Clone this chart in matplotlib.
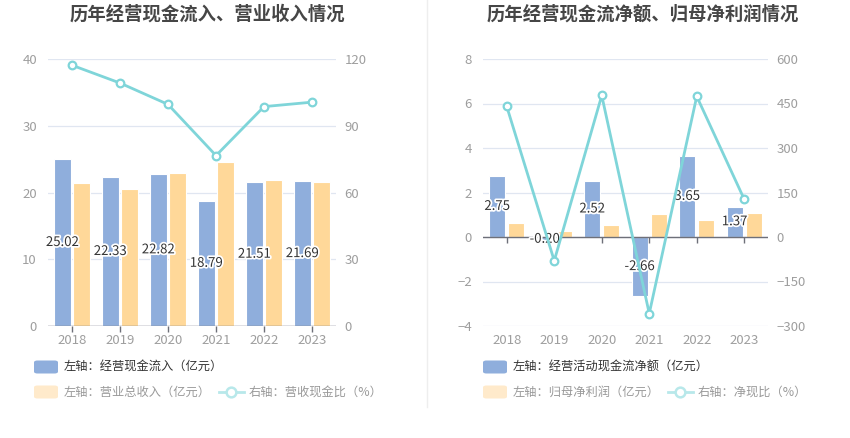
import matplotlib
matplotlib.use("Agg")
import matplotlib.pyplot as plt
from matplotlib.patches import FancyBboxPatch
from matplotlib.lines import Line2D
import matplotlib.patheffects as pe
import numpy as np

plt.rcParams['font.family'] = ['Noto Sans CJK SC', 'DejaVu Sans']

# --------------------------------------------------------------------------- #
# data
# --------------------------------------------------------------------------- #
years = ["2018", "2019", "2020", "2021", "2022", "2023"]

cash_in = [25.02, 22.33, 22.82, 18.79, 21.51, 21.69]        # 经营现金流入 (亿元)
revenue = [21.35, 20.45, 22.90, 24.50, 21.80, 21.55]        # 营业总收入 (亿元)
cash_rev_ratio = [117.2, 109.2, 99.6, 76.6, 98.6, 100.6]    # 营收现金比 (%)

net_cash = [2.75, -0.20, 2.52, -2.66, 3.65, 1.37]           # 经营活动现金流净额 (亿元)
net_profit = [0.62, 0.25, 0.53, 1.02, 0.77, 1.08]           # 归母净利润 (亿元)
net_cash_ratio = [440, -80, 477, -258, 474, 127]            # 净现比 (%)

left_ticks = [0, 10, 20, 30, 40]
left_rticks = [0, 30, 60, 90, 120]
right_ticks = [-4, -2, 0, 2, 4, 6, 8]
right_rticks = [-300, -150, 0, 150, 300, 450, 600]

BLUE = "#8FAEDC"
YELLOW = "#FFD899"
TEAL = "#7FD5D9"
GRID = "#E0E6F1"
TICK = "#9E9E9E"
W, H = 850, 438


def fx(px):
    return px / W


def fy(py):
    return 1 - py / H


def panel(fig, rect, bars_a, bars_b, line, ylim, yticks, rylim, rticks):
    ax = fig.add_axes(rect)
    x = np.arange(len(years))
    ax.bar(x - 0.2, bars_a, width=0.34, color=BLUE, edgecolor="white", linewidth=0.8, zorder=2)
    ax.bar(x + 0.2, bars_b, width=0.34, color=YELLOW, edgecolor="white", linewidth=0.8, zorder=2)
    for xi, v in zip(x, bars_a):
        ax.text(xi - 0.2, v / 2, f"{v:.2f}", ha="center", va="center", fontsize=9.5,
                color="#333333", zorder=5,
                path_effects=[pe.withStroke(linewidth=2.5, foreground="white")])
    ax.set_xlim(-0.5, len(years) - 0.5)
    ax.set_ylim(*ylim)
    ax.set_yticks(yticks)
    ax.grid(axis="y", color=GRID, linewidth=0.9, zorder=0)
    ax.set_axisbelow(True)
    for s in ["top", "right", "left", "bottom"]:
        ax.spines[s].set_visible(False)
    ax.axhline(0, color="#6E7079", linewidth=1.0, zorder=3)
    ax.set_xticks(x)
    ax.set_xticklabels(years)
    ax.tick_params(axis="x", length=0, colors=TICK, labelsize=9.5, pad=6)
    ax.tick_params(axis="y", length=0, colors=TICK, labelsize=9.5, pad=8)
    ax.plot(x, np.zeros(len(x)), linestyle="none", marker=3, markersize=4.5,
            markeredgewidth=1.0, color="#6E7079", clip_on=False, zorder=3)
    ax2 = ax.twinx()
    ax2.plot(x, line, color=TEAL, linewidth=2, marker="o", markersize=5.5,
             markerfacecolor="white", markeredgecolor=TEAL, markeredgewidth=1.6, zorder=6)
    ax2.set_ylim(*rylim)
    ax2.set_yticks(rticks)
    ax2.tick_params(axis="y", length=0, colors=TICK, labelsize=9.5, pad=6)
    for s in ["top", "right", "left", "bottom"]:
        ax2.spines[s].set_visible(False)
    return ax, ax2


def legend_patch(fig, x0, yc, color, alpha=1.0):
    fig.patches.append(FancyBboxPatch((fx(x0), fy(yc + 6.5)), fx(24), 13 / H,
                                      boxstyle="round,pad=0,rounding_size=0.004",
                                      transform=fig.transFigure, facecolor=color,
                                      edgecolor="none", alpha=alpha))


def legend_line(fig, x0, yc):
    fig.add_artist(Line2D([fx(x0), fx(x0 + 25)], [fy(yc), fy(yc)], color="#B8E8EA",
                          linewidth=2, transform=fig.transFigure))
    fig.add_artist(Line2D([fx(x0 + 12.5)], [fy(yc)], marker="o", markersize=7,
                          markerfacecolor="white", markeredgecolor="#B8E8EA",
                          markeredgewidth=1.8, transform=fig.transFigure))


fig = plt.figure(figsize=(8.5, 4.38), dpi=100)

panel(fig, [fx(48), fy(326), fx(288), (326 - 59) / H],
      cash_in, revenue, cash_rev_ratio, (0, 40), left_ticks, (0, 120), left_rticks)
panel(fig, [fx(483), fy(326), fx(285), (326 - 59) / H],
      net_cash, net_profit, net_cash_ratio, (-4, 8), right_ticks, (-300, 600), right_rticks)

fig.text(fx(207), fy(14), "历年经营现金流入、营业收入情况", ha="center", va="center",
         fontsize=13.2, fontweight="bold", color="#464646")
fig.text(fx(643), fy(14), "历年经营现金流净额、归母净利润情况", ha="center", va="center",
         fontsize=13.2, fontweight="bold", color="#464646")

# divider
fig.add_artist(Line2D([fx(427.3), fx(427.3)], [fy(0), fy(407)], color="#EEEEEE",
                      linewidth=1, transform=fig.transFigure))

# legends
r1, r2 = 367, 392
legend_patch(fig, 34, r1, BLUE)
fig.text(fx(64), fy(r1), "左轴：经营现金流入（亿元）", va="center", fontsize=8.8, color="#333333")
legend_patch(fig, 34, r2, "#FFEACB")
fig.text(fx(64), fy(r2), "左轴：营业总收入（亿元）", va="center", fontsize=8.8, color="#999999")
legend_line(fig, 218.5, r2)
fig.text(fx(249), fy(r2), "右轴：营收现金比（%）", va="center", fontsize=8.8, color="#999999")

legend_patch(fig, 483, r1, BLUE)
fig.text(fx(513), fy(r1), "左轴：经营活动现金流净额（亿元）", va="center", fontsize=8.8, color="#333333")
legend_patch(fig, 483, r2, "#FFEACB")
fig.text(fx(513), fy(r2), "左轴：归母净利润（亿元）", va="center", fontsize=8.8, color="#999999")
legend_line(fig, 667.5, r2)
fig.text(fx(698), fy(r2), "右轴：净现比（%）", va="center", fontsize=8.8, color="#999999")

fig.savefig("out.png", dpi=100)
